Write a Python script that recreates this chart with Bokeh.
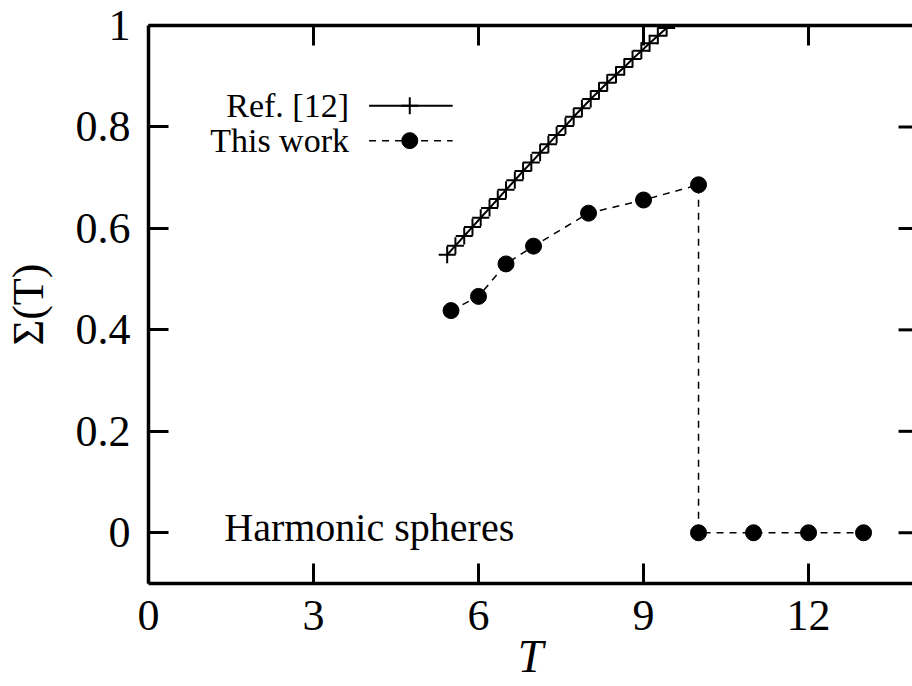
from bokeh.plotting import figure
from bokeh.models import LinearAxis, FixedTicker, Label, Range1d
from bokeh.embed import file_html
from bokeh.resources import INLINE

# Configurational entropy Sigma(T) of harmonic spheres
# Ref. [12] curve
ref_T = [5.43, 5.58, 5.74, 5.89, 6.04, 6.20, 6.35, 6.50, 6.66, 6.81,
         6.96, 7.12, 7.27, 7.42, 7.58, 7.73, 7.88, 8.04, 8.19, 8.34,
         8.50, 8.65, 8.80, 8.96, 9.11, 9.26, 9.42]
ref_sigma = [0.548, 0.566, 0.585, 0.603, 0.621, 0.640, 0.658, 0.676, 0.695, 0.713,
             0.730, 0.749, 0.766, 0.784, 0.802, 0.820, 0.837, 0.855, 0.871, 0.887,
             0.903, 0.918, 0.934, 0.950, 0.965, 0.980, 0.995]

# This work
work_T = [5.5, 6.0, 6.5, 7.0, 8.0, 9.0, 10.0, 10.0, 11.0, 12.0, 13.0]
work_sigma = [0.438, 0.466, 0.530, 0.565, 0.630, 0.656, 0.686, 0.0, 0.0, 0.0, 0.0]

x_ticks = [0, 3, 6, 9, 12]
y_ticks = [0, 0.2, 0.4, 0.6, 0.8, 1.0]
y_tick_labels = ["0", "0.2", "0.4", "0.6", "0.8", "1"]

series_names = ["Ref. [12]", "This work"]

FONT = "Liberation Serif"
X_MIN, X_MAX = 0.0, 13.89
Y_MIN, Y_MAX = -0.1, 1.0
W, H = 912, 686
LEFT, TOP, BOTTOM = 146, 25, 103

p = figure(width=W, height=H,
           x_range=Range1d(X_MIN, X_MAX), y_range=Range1d(Y_MIN, Y_MAX),
           output_backend="svg", toolbar_location=None,
           min_border_left=LEFT, min_border_right=0,
           min_border_top=TOP, min_border_bottom=BOTTOM)
p.grid.visible = False
p.outline_line_color = None
p.background_fill_color = "white"
p.border_fill_color = "white"


def style_axis(ax, ticks):
    ax.ticker = FixedTicker(ticks=ticks)
    ax.axis_line_width = 3.5
    ax.axis_line_color = "black"
    ax.major_tick_in = 20
    ax.major_tick_out = 0
    ax.major_tick_line_width = 3
    ax.major_tick_line_color = "black"
    ax.minor_tick_in = 0
    ax.minor_tick_out = 0
    ax.major_label_text_font = FONT
    ax.major_label_text_color = "black"
    ax.major_label_text_font_size = "44px"


xa = p.xaxis[0]
style_axis(xa, x_ticks)
xa.major_label_standoff = 17
xa.axis_label = "T"
xa.axis_label_text_font = FONT
xa.axis_label_text_font_style = "italic"
xa.axis_label_text_font_size = "46px"
xa.axis_label_text_color = "black"
xa.axis_label_standoff = -2

ya = p.yaxis[0]
style_axis(ya, y_ticks)
ya.major_label_standoff = 18
ya.major_label_overrides = {t: s for t, s in zip(y_ticks, y_tick_labels)}
ya.axis_label = "Σ(T)"
ya.axis_label_text_font = FONT
ya.axis_label_text_font_style = "normal"
ya.axis_label_text_font_size = "44px"
ya.axis_label_text_color = "black"
ya.axis_label_standoff = 20

# mirrored axis along the top: line and inward ticks only
top_axis = LinearAxis()
style_axis(top_axis, x_ticks[1:])
top_axis.major_label_overrides = {t: "" for t in x_ticks[1:]}
top_axis.major_label_standoff = 0
p.add_layout(top_axis, "above")

# inward ticks along the right edge of the frame
px_per_x = (W - LEFT) / (X_MAX - X_MIN)
tick_len = 14 / px_per_x
right_ticks = y_ticks[:-1]
p.segment(x0=[X_MAX - tick_len] * len(right_ticks), y0=right_ticks,
          x1=[X_MAX] * len(right_ticks), y1=right_ticks,
          line_color="black", line_width=3)

# Ref. [12]
p.line(ref_T, ref_sigma, line_color="black", line_width=2)
p.scatter(ref_T, ref_sigma, marker="cross", size=17, line_color="black", line_width=2)

# This work
p.line(work_T, work_sigma, line_color="black", line_width=1.5, line_dash="7 6")
p.scatter(work_T, work_sigma, marker="circle", size=16,
          fill_color="black", line_color="black")

# key
key_text_x = 3.645
key_x0, key_x1, key_xm = 4.01, 5.53, 4.75
key_y = [0.842, 0.773]

p.line([key_x0, key_x1], [key_y[0]] * 2, line_color="black", line_width=2)
p.scatter([key_xm], [key_y[0]], marker="cross", size=17, line_color="black", line_width=2)
p.line([key_x0, key_x1], [key_y[1]] * 2, line_color="black", line_width=1.5, line_dash="7 6")
p.scatter([key_xm], [key_y[1]], marker="circle", size=16, fill_color="black", line_color="black")

for name, ky in zip(series_names, key_y):
    p.add_layout(Label(x=key_text_x, y=ky, text=name, text_align="right",
                       text_baseline="middle", text_font=FONT,
                       text_font_size="34px", text_color="black"))

p.add_layout(Label(x=1.378, y=0.0104, text="Harmonic spheres", text_align="left",
                   text_baseline="alphabetic", text_font=FONT,
                   text_font_size="40px", text_color="black"))

open("out.html", "w").write(file_html(p, INLINE))
